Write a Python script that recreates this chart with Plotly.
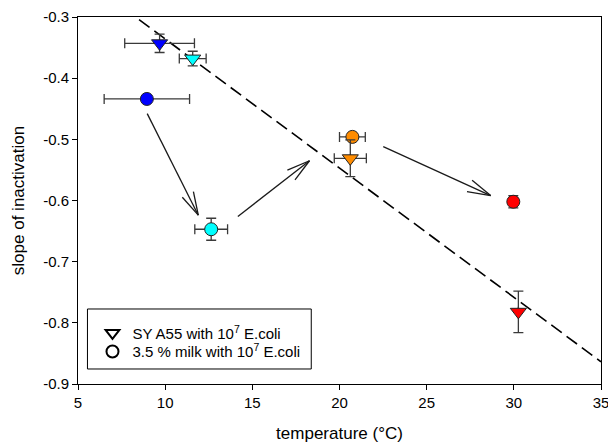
import math
import plotly.graph_objects as go

# ---- data ----
tri_x = [9.68, 11.58, 20.62, 30.26]
tri_y = [-0.343, -0.368, -0.531, -0.782]
tri_xerr = [2.0, 0.77, 0.92, 0.0]
tri_yerr = [0.015, 0.012, 0.030, 0.034]

circ_x = [8.95, 12.64, 20.74, 29.97]
circ_y = [-0.434, -0.647, -0.496, -0.602]
circ_xerr = [2.45, 0.94, 0.74, 0.0]
circ_yerr = [0.0, 0.018, 0.0, 0.010]

point_colors = ["#0000FF", "#00FFFF", "#FF8C00", "#FF0000"]

fit_slope = -0.02111
fit_intercept = -0.1248
fit_x = [5, 35]
fit_y = [fit_intercept + fit_slope * v for v in fit_x]

# arrows: start -> end
arrow_start_x = [8.97, 14.17, 22.51]
arrow_start_y = [-0.458, -0.626, -0.512]
arrow_end_x = [11.90, 18.28, 28.67]
arrow_end_y = [-0.624, -0.535, -0.592]

y_ticks = [-0.3, -0.4, -0.5, -0.6, -0.7, -0.8, -0.9]
y_ticktext = ["-0.3", "-0.4", "-0.5", "-0.6", "-0.7", "-0.8", "-0.9"]
x_ticks = [5, 10, 15, 20, 25, 30, 35]

legend_labels = ["SY A55 with 10<sup>7</sup> E.coli", "3.5 % milk with 10<sup>7</sup> E.coli"]

# ---- layout constants ----
FONT = "Arial, Liberation Sans, sans-serif"
ERR_COLOR = "#3a3a3a"
W, H = 608, 443
M_L, M_R, M_T, M_B = 77.5, 7, 17, 59
X_RANGE = [5, 35]
Y_RANGE = [-0.9, -0.3]
PX_PER_X = (W - M_L - M_R) / (X_RANGE[1] - X_RANGE[0])
PX_PER_Y = (H - M_T - M_B) / (Y_RANGE[1] - Y_RANGE[0])
HEAD_LEN = 24
HEAD_ANGLE = math.radians(15)

fig = go.Figure()

# regression line
fig.add_trace(go.Scatter(
    x=fit_x, y=fit_y, mode="lines",
    line=dict(color="black", width=1.6, dash="13px,6px"),
    showlegend=False, hoverinfo="skip"))

# circles
fig.add_trace(go.Scatter(
    x=circ_x, y=circ_y, mode="markers",
    marker=dict(symbol="circle", size=13, color=point_colors,
                line=dict(color="#222222", width=1)),
    error_x=dict(type="data", array=circ_xerr, color=ERR_COLOR, thickness=1.3, width=5),
    error_y=dict(type="data", array=circ_yerr, color=ERR_COLOR, thickness=1.3, width=5),
    showlegend=False))

# triangles
fig.add_trace(go.Scatter(
    x=tri_x, y=tri_y, mode="markers",
    marker=dict(symbol="triangle-down", size=14, color=point_colors,
                line=dict(color="#222222", width=1)),
    error_x=dict(type="data", array=tri_xerr, color=ERR_COLOR, thickness=1.3, width=5),
    error_y=dict(type="data", array=tri_yerr, color=ERR_COLOR, thickness=1.3, width=5),
    showlegend=False))

# legend entries (two separate legends so row spacing can be set)
fig.add_trace(go.Scatter(
    x=[None], y=[None], mode="markers", name=legend_labels[0], legend="legend",
    marker=dict(symbol="triangle-down-open", size=14, color="black", line=dict(width=0.9))))
fig.add_trace(go.Scatter(
    x=[None], y=[None], mode="markers", name=legend_labels[1], legend="legend2",
    marker=dict(symbol="circle-open", size=13, color="black", line=dict(width=0.9))))

# arrows: shaft + two open wings
ARROW_COLOR = "#1a1a1a"
for sx, sy, ex, ey in zip(arrow_start_x, arrow_start_y, arrow_end_x, arrow_end_y):
    fig.add_shape(type="line", xref="x", yref="y", x0=sx, y0=sy, x1=ex, y1=ey,
                  line=dict(color=ARROW_COLOR, width=1.3))
    bx = (sx - ex) * PX_PER_X
    by = (sy - ey) * PX_PER_Y
    ang = math.atan2(by, bx)
    for s in (-1, 1):
        a = ang + s * HEAD_ANGLE
        fig.add_shape(type="line", xref="x", yref="y",
                      xsizemode="pixel", ysizemode="pixel",
                      xanchor=ex, yanchor=ey,
                      x0=0, y0=0,
                      x1=HEAD_LEN * math.cos(a), y1=HEAD_LEN * math.sin(a),
                      line=dict(color=ARROW_COLOR, width=1.3))

# legend frame
fig.add_shape(type="rect", xref="paper", yref="paper",
              x0=0.0181, x1=0.446, y0=0.0409, y1=0.2044,
              line=dict(color="black", width=1), fillcolor="rgba(0,0,0,0)", layer="above")

leg_common = dict(xanchor="left", yanchor="middle", borderwidth=0,
                  bgcolor="rgba(0,0,0,0)",
                  font=dict(family=FONT, size=15, color="black"),
                  itemsizing="constant")

fig.update_layout(
    width=W, height=H,
    margin=dict(l=M_L, r=M_R, t=M_T, b=M_B, autoexpand=False),
    paper_bgcolor="white", plot_bgcolor="white",
    font=dict(family=FONT, size=15, color="black"),
    showlegend=True,
    legend=dict(x=0.0277, y=0.1384, **leg_common),
    legend2=dict(x=0.0277, y=0.088, **leg_common),
)
fig.update_xaxes(
    range=X_RANGE, tickvals=x_ticks, ticks="outside", ticklen=5, tickwidth=1,
    tickcolor="black", showline=True, linecolor="black", linewidth=1, mirror=True,
    showgrid=False, zeroline=False, automargin=False, ticklabeloverflow="allow",
    title=dict(text="temperature (°C)", font=dict(size=17), standoff=20),
    tickfont=dict(size=15))
fig.update_yaxes(
    range=Y_RANGE, tickvals=y_ticks, ticktext=y_ticktext, ticks="outside",
    ticklen=5, tickwidth=1, tickcolor="black", showline=True, linecolor="black",
    linewidth=1, mirror=True, showgrid=False, zeroline=False, automargin=False,
    title=dict(text="slope of inactivation", font=dict(size=17), standoff=14),
    tickfont=dict(size=15))

fig.write_html("out.html", config={"displayModeBar": False},
               post_script="document.body.style.margin='0';document.body.style.overflow='hidden';")
